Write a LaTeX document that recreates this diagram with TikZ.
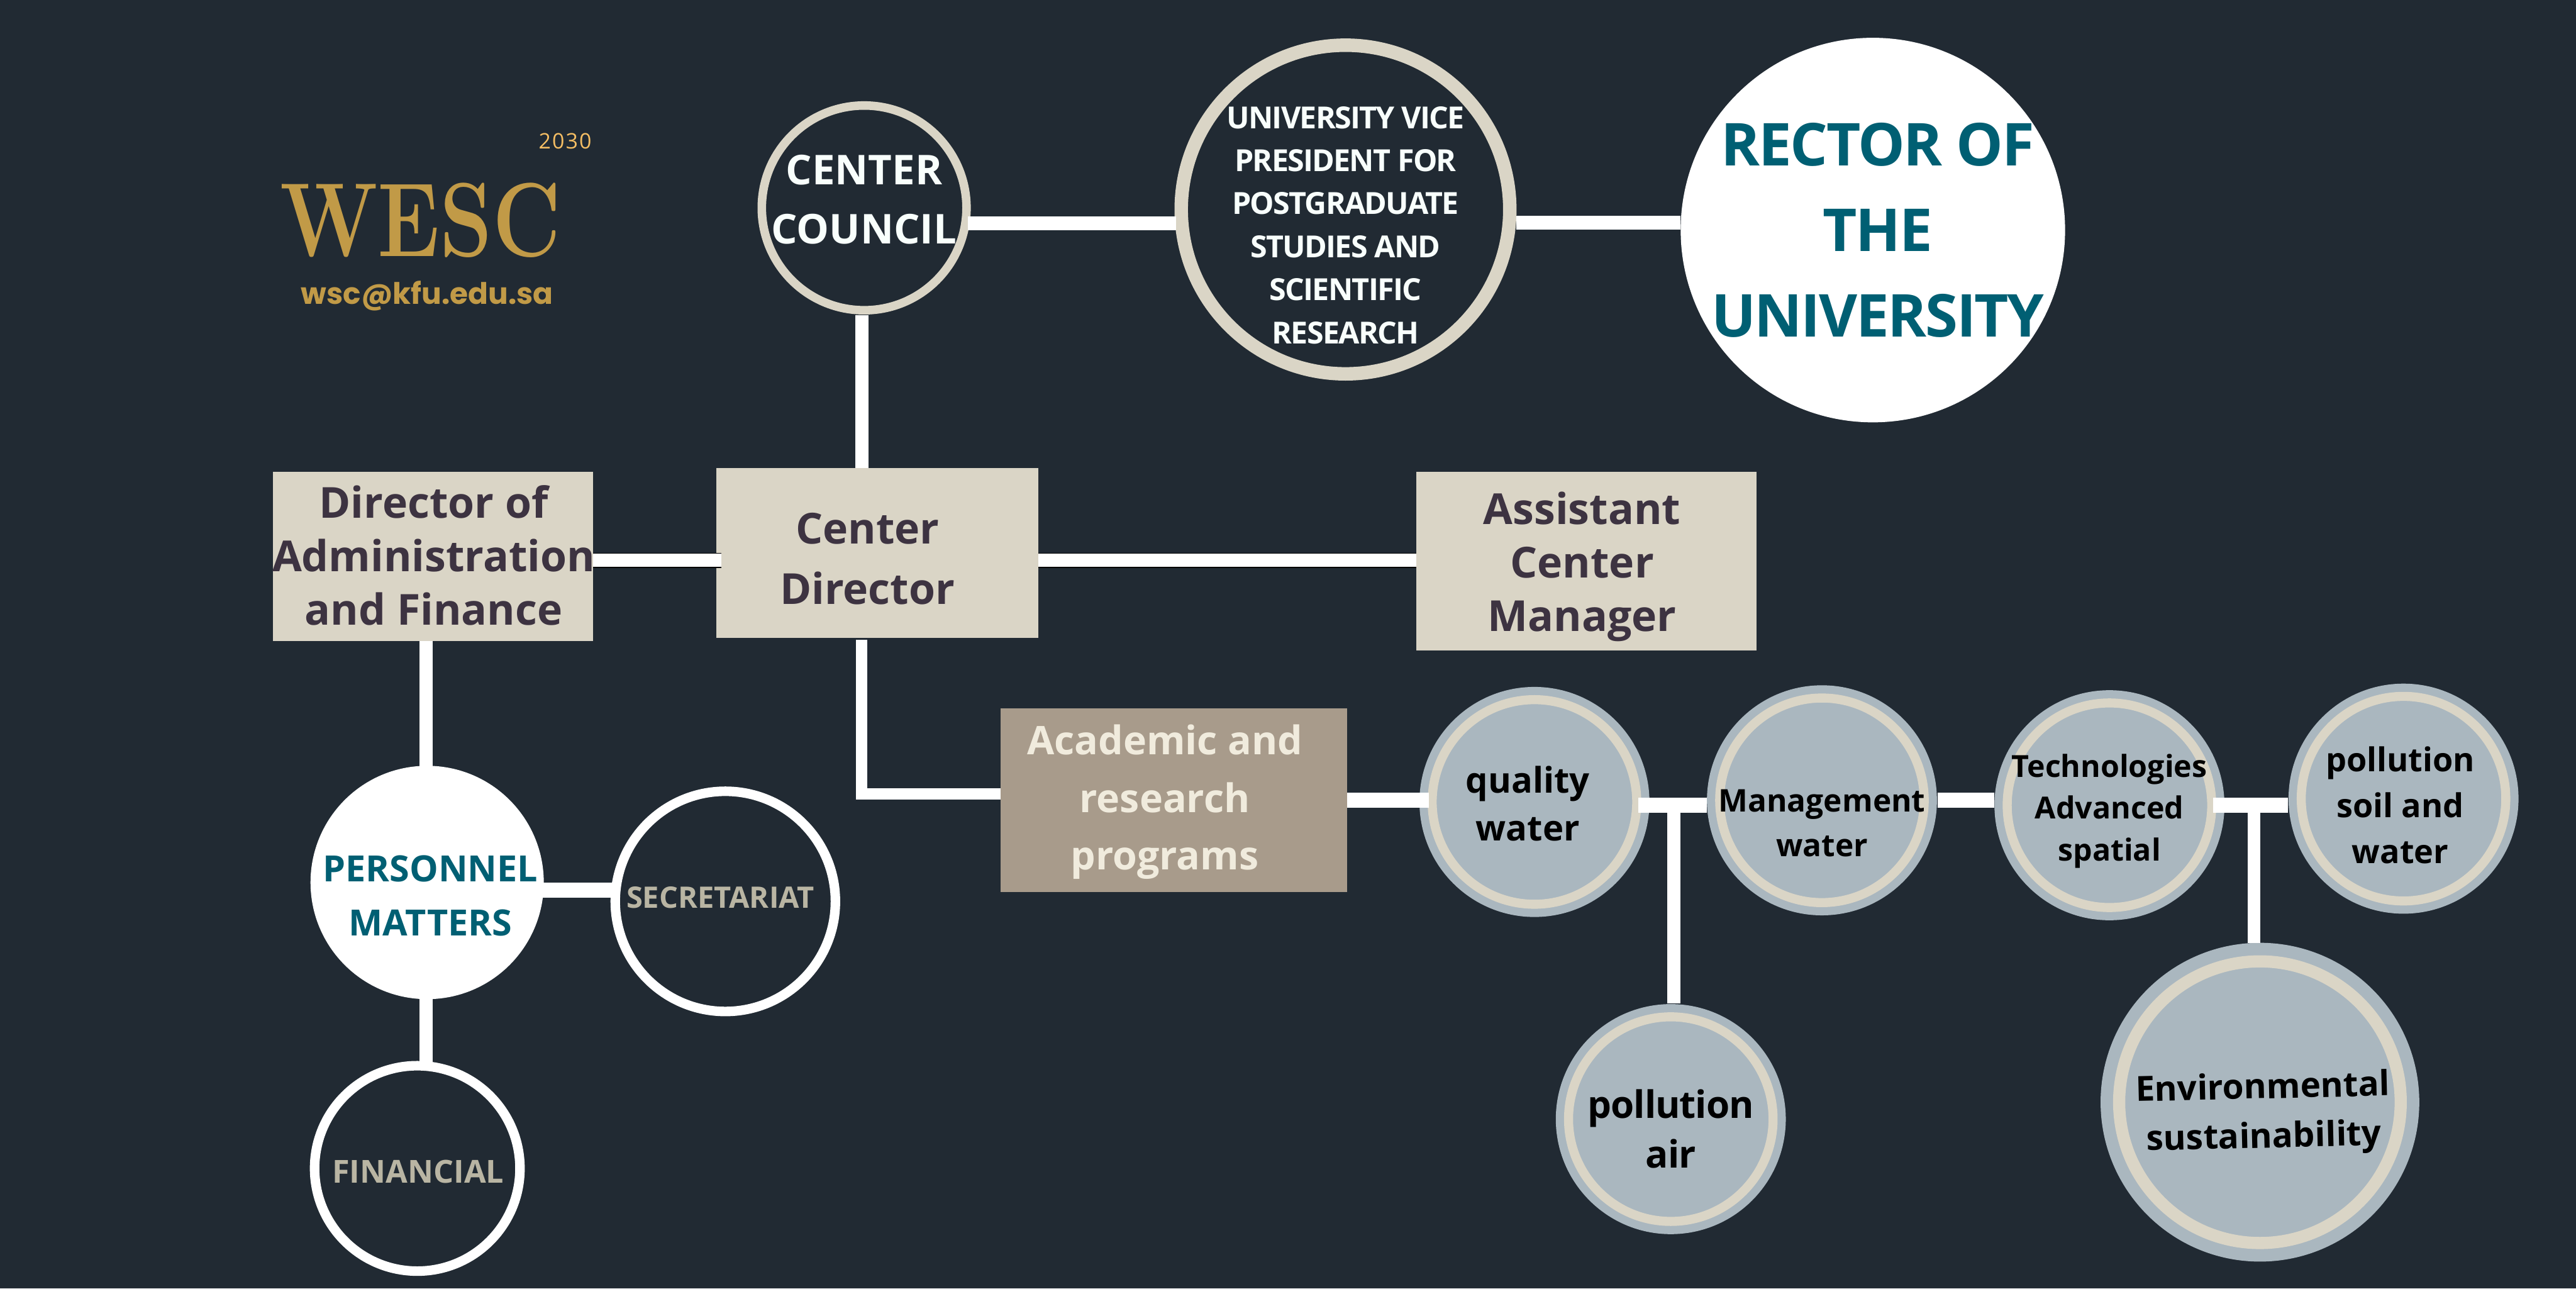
\documentclass[tikz,border=0pt]{standalone}
\usepackage{fontspec}
\setmainfont{Open Sans}
\newfontfamily\popf{Poppins}
\newfontfamily\lmf{Latin Modern Roman}
\usetikzlibrary{calc}
\definecolor{bgc}{HTML}{212A33}
\definecolor{ringc}{HTML}{DAD5C6}
\definecolor{haloc}{HTML}{AAB7BF}
\definecolor{tealc}{HTML}{005F73}
\definecolor{tanc}{HTML}{A89B8B}
\definecolor{goldc}{HTML}{C19A47}
\definecolor{yearc}{HTML}{F5BE64}
\definecolor{darkt}{HTML}{3D3341}
\definecolor{greyt}{HTML}{B9B5A3}
\definecolor{lightt}{HTML}{F0EBDD}
\definecolor{whitet}{HTML}{F8FFFC}
\newcommand{\fs}[2]{\fontsize{#1}{#2}\selectfont\bfseries}
\newcommand{\tight}[1]{\addfontfeatures{LetterSpace=#1}}
\tikzset{
  x=1pt,y=-1pt,
  box/.style={rectangle,fill=ringc,draw=none,inner sep=0pt,outer sep=0pt,minimum width=#1},
  ringnode/.style={circle,inner sep=0pt,outer sep=0pt,minimum size=#1},
  topic/.style={ringnode=#1,fill=haloc,draw=ringc,line width=5.5pt,preaction={draw=haloc,line width=15.5pt}},
  bigtopic/.style={ringnode=#1,fill=haloc,draw=ringc,line width=7.4pt,preaction={draw=haloc,line width=22.6pt}},
  whitering/.style={ringnode=#1,fill=bgc,draw=white,line width=5.8pt},
  solid disc/.style={ringnode=#1,fill=white},
  conn/.style={draw=white,line width=#1},
  conn/.default=8pt,
  edged/.style={draw=black,line width=.65pt,double=white,double distance=8pt},
  txt/.style={align=center,inner sep=0pt,outer sep=0pt},
}
\begin{document}
\begin{tikzpicture}
\useasboundingbox (0,0) rectangle (1568,784);
\fill[bgc] (0,0) rectangle (1568,784);
% logo
\node[txt,text=goldc] (wesc) at (256,134) {\scalebox{.8}[1]{\fontsize{64}{64}\selectfont\lmf\bfseries WESC}};
\node[txt,text=yearc] (year) at (344,86) {\fontsize{13}{13}\selectfont\tight{6}2030};
\node[txt,text=goldc] (mail) at (260,180) {\fontsize{18}{18}\selectfont\popf\bfseries wsc@kfu.edu.sa};
% shapes
\node[solid disc=234pt] (rector) at (1140,140) {};
\node[ringnode=200pt,fill=bgc,draw=ringc,line width=8.2pt] (vp) at (819,127.5) {};
\node[ringnode=124.6pt,fill=bgc,draw=ringc,line width=5.2pt] (council) at (526,126.5) {};
\node[box=196pt,minimum height=103pt] (director) at (534,336.5) {};
\node[box=195pt,minimum height=103pt] (admin) at (263.5,338.5) {};
\node[box=207pt,minimum height=109pt] (assistant) at (965.5,341.5) {};
\node[box=211pt,minimum height=112pt,fill=tanc] (academic) at (714.5,487) {};
\node[topic=124.5pt] (quality) at (934,488) {};
\node[topic=124.5pt] (management) at (1109,487) {};
\node[topic=124.5pt] (technologies) at (1284,490) {};
\node[topic=124.5pt] (soil) at (1463,486) {};
\node[topic=124.5pt] (air) at (1017,681) {};
\node[bigtopic=171.4pt] (sustain) at (1375.6,670.7) {};
\node[solid disc=142pt] (personnel) at (260,537) {};
\node[whitering=134pt] (secretariat) at (441.5,548.5) {};
\node[whitering=125pt] (financial) at (254,711) {};
% connectors
\draw[conn=8.4pt] ([shift={(1,9.5)}]council.east) -- ([shift={(-3,8.5)}]vp.west);
\draw[conn=8.4pt] ([shift={(4,8)}]vp.east) -- ([shift={(0,-4.5)}]rector.west);
\draw[conn] ([shift={(-1.5,3)}]council.south) -- ([shift={(-9.5,0)}]director.north);
\draw[edged] ([shift={(0,2.5)}]admin.east) -- ([shift={(3,4.5)}]director.west);
\draw[edged] ([shift={(0,4.5)}]director.east) -- ([shift={(0,-0.5)}]assistant.west);
\draw[conn=7pt] ([shift={(-1.5,1.5)}]director.south -| council.south) -- ([shift={(-1.5,-4)}]council.south |- academic.west) -- ([shift={(0,-4)}]academic.west);
\draw[conn=9pt] ([shift={(0,0)}]academic.east) -- ([shift={(-2,-1)}]quality.west);
\draw[conn=9pt] ([shift={(1,2)}]quality.east) -- ([shift={(-8,3)}]management.west);
\coordinate (airtop) at ($(quality.east)!0.5!(management.west)$);
\draw[conn=8pt] (air.north |- airtop) ++(2,6) -- ([shift={(2,-8)}]air.north);
\draw[conn=9pt] ([shift={(8,0)}]management.east) -- ([shift={(-8,-3)}]technologies.west);
\draw[conn=9pt] ([shift={(1,0)}]technologies.east) -- ([shift={(-8,4)}]soil.west);
\coordinate (susttop) at ($(technologies.east)!0.5!(soil.west)$);
\draw[conn=7.5pt] (sustain.north |- susttop) ++(-3.6,0) -- ([shift={(-3.6,-11)}]sustain.north);
\draw[conn] ([shift={(-4.3,0)}]admin.south) -- ([shift={(-0.8,2)}]personnel.north);
\draw[conn=9.2pt] ([shift={(-1,4.8)}]personnel.east) -- ([shift={(-1,-6.7)}]secretariat.west);
\draw[conn=8pt] ([shift={(-0.8,-1)}]personnel.south) -- ([shift={(5.2,-1)}]financial.north);
% texts
\node[txt,text=tealc,font=\fs{36}{52}\tight{-2.5}] (t1) at (1143,140) {RECTOR OF\\THE\\UNIVERSITY};
\node[txt,text=whitet,font=\fs{18.5}{26.2}\tight{-3.6}] (t2) at (819,137) {UNIVERSITY VICE\\PRESIDENT FOR\\POSTGRADUATE\\STUDIES AND\\SCIENTIFIC\\RESEARCH};
\node[txt,text=whitet,font=\fs{25}{36}] (t3) at (526,121.5) {CENTER\\COUNCIL};
\node[txt,text=darkt,font=\fs{26}{37}] (t4) at (528,340) {Center\\Director};
\node[txt,text=darkt,font=\fs{26}{32.5}] (t5) at (264,338) {Director of\\Administration\\and Finance};
\node[txt,text=darkt,font=\fs{26}{32.5}] (t6) at (963,345) {Assistant\\Center\\Manager};
\node[txt,text=lightt,font=\fs{24}{35}] (t7) at (709,488) {Academic and\\research\\programs};
\node[txt,text=black,font=\fs{21.5}{29}] (t8) at (930,489) {quality\\water};
\node[txt,text=black,font=\fs{19}{27}] (t9) at (1109,501) {Management\\water};
\node[txt,text=black,font=\fs{18.5}{25.5}] (t10) at (1284,493.5) {Technologies\\Advanced\\spatial};
\node[txt,text=black,font=\fs{20}{28}] (t11) at (1461,490) {pollution\\soil and\\water};
\node[txt,text=black,font=\fs{23}{30}\tight{-1.7}] (t12) at (1017,687) {pollution\\air};
\node[txt,text=black,font=\fs{21}{30},rotate=1.35] (t13) at (1377.7,678) {Environmental\\sustainability};
\node[txt,text=tealc,font=\fs{22}{33}] (t14) at (262,545) {PERSONNEL\\MATTERS};
\node[txt,text=greyt,font=\fs{18}{20}] (t15) at (438.5,546) {SECRETARIAT};
\node[txt,text=greyt,font=\fs{19.3}{20}] (t16) at (254.5,713) {FINANCIAL};
\end{tikzpicture}
\end{document}
